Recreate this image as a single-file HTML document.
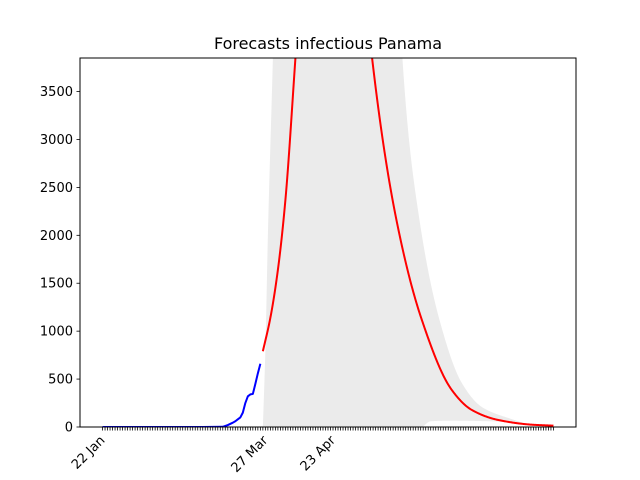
<!DOCTYPE html>
<html><head><meta charset="utf-8">
<style>
html,body{margin:0;padding:0;background:#fff;}
svg{display:block;font-family:"DejaVu Sans","Liberation Sans",sans-serif;}
</style></head>
<body>
<svg id="chart" width="640" height="480" viewBox="0 0 640 480" xmlns="http://www.w3.org/2000/svg">
<rect width="640" height="480" fill="#fff"/>
<text x="328" y="49" text-anchor="middle" font-size="16">Forecasts infectious Panama</text>
<defs><clipPath id="plotclip"><rect x="80" y="58" width="496" height="369"/></clipPath></defs>
<g id="plot" clip-path="url(#plotclip)"></g>
<g id="axes"></g>
</svg>
<script>
const blueDays = [0,10,20,30,40,48,50,52,53,54,55,56,57,58,59,60,61,62,63];
const blueVals = [0,0,0,0,0,2,20,45,60,80,100,150,250,320,340,345,450,560,660];
const redDays = [64,67,70,73,77,80,85,92,100,107.6,117.3,127.3,139.4,147.4,158,171.5,180];
const redVals = [790,1140,1640,2370,3850,5000,7000,8000,6200,3850,2163,1130,387,178,73,24,14];
const bandDays = [64,65,66,68,70,80,100,115,119.7,126.5,134.5,143.4,151.4,162,171,180];
const bandUpper = [0,800,2000,3850,6000,15000,20000,8000,3850,2163,1118,460,209,94,30,15];
const lowDays = [64,100,127,131,140,151,160,170,180];
const lowVals = [0,0,0,60,66,62,55,22,12];
const yTicks = [0,500,1000,1500,2000,2500,3000,3500];
const xLabelDays = [0,65,92];
const xLabels = ["22 Jan","27 Mar","23 Apr"];
const nDays = 180;

const X0=80,X1=576,Y0=427,Y1=58;
const dMin=-nDays*0.05, dMax=nDays*1.05, yMax=3850;
const xs=d=>X0+(d-dMin)/(dMax-dMin)*(X1-X0);
const ys=v=>Y0-v/yMax*(Y0-Y1);
const NS="http://www.w3.org/2000/svg";
const plot=document.getElementById('plot'), axes=document.getElementById('axes');
function mk(tag,attrs,parent){const e=document.createElementNS(NS,tag);for(const k in attrs)e.setAttribute(k,attrs[k]);parent.appendChild(e);return e;}

// monotone cubic interpolation (linear space)
function smooth(xa,ya,step){
  const n=xa.length;
  const dl=[],m=new Array(n);
  for(let i=0;i<n-1;i++)dl.push((ya[i+1]-ya[i])/(xa[i+1]-xa[i]));
  m[0]=dl[0];m[n-1]=dl[n-2];
  for(let i=1;i<n-1;i++){
    if(dl[i-1]*dl[i]<=0){m[i]=0;continue;}
    const h0=xa[i]-xa[i-1],h1=xa[i+1]-xa[i];
    const w1=2*h1+h0,w2=h1+2*h0;
    m[i]=(w1+w2)/(w1/dl[i-1]+w2/dl[i]);
  }
  const out=[];
  for(let i=0;i<n-1;i++){
    const h=xa[i+1]-xa[i];
    const k=Math.max(1,Math.ceil(h/step));
    for(let j=0;j<k;j++){
      const t=j/k,t2=t*t,t3=t2*t;
      const y=(2*t3-3*t2+1)*ya[i]+(t3-2*t2+t)*h*m[i]+(-2*t3+3*t2)*ya[i+1]+(t3-t2)*h*m[i+1];
      out.push([xa[i]+t*h,Math.max(0,y)]);
    }
  }
  out.push([xa[n-1],ya[n-1]]);
  return out;
}

// band
const up=smooth(bandDays,bandUpper,0.25), lo=smooth(lowDays,lowVals,0.25);
let pts=up.map(p=>xs(p[0])+','+ys(p[1]));
for(let i=lo.length-1;i>=0;i--)pts.push(xs(lo[i][0])+','+ys(lo[i][1]));
const band=mk('polygon',{points:pts.join(' '),fill:'#ebebeb',stroke:'none'},plot);



const blue=mk('polyline',{points:blueDays.map((d,i)=>xs(d)+','+ys(blueVals[i])).join(' '),fill:'none',stroke:'#0000ff','stroke-width':2,'stroke-linejoin':'round'},plot);



const rs=smooth(redDays,redVals,0.25);
const red=mk('polyline',{points:rs.map(p=>xs(p[0])+','+ys(p[1])).join(' '),fill:'none',stroke:'#ff0000','stroke-width':2,'stroke-linejoin':'round'},plot);



// frame
const frame=mk('rect',{x:X0,y:Y1,width:X1-X0,height:Y0-Y1,fill:'none',stroke:'#000','stroke-width':1},axes);



yTicks.forEach(v=>{
  const y=ys(v);
  mk('line',{x1:X0-3.5,x2:X0,y1:y,y2:y,stroke:'#000','stroke-width':0.8},axes);
  const t=mk('text',{x:X0-7,y:y+4.5,'text-anchor':'end','font-size':13},axes);
  t.textContent=v;
  
  
});
for(let d=0;d<=nDays;d++){
  const x=xs(d);
  mk('line',{x1:x,x2:x,y1:Y0,y2:Y0+3.5,stroke:'#000','stroke-width':0.8},axes);
}
xLabelDays.forEach((d,i)=>{
  const x=xs(d)+3;
  const y=Y0+14;
  const t=mk('text',{x:x,y:y,'text-anchor':'end','font-size':13,transform:`rotate(-45 ${x} ${y})`},axes);
  t.textContent=xLabels[i];
  
  
});
</script>
</body></html>
